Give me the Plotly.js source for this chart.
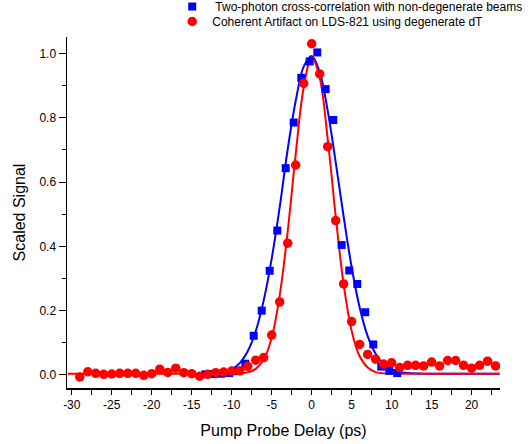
<!DOCTYPE html>
<html>
<head>
<meta charset="utf-8">
<script src="https://cdn.plot.ly/plotly-3.0.1.min.js"></script>
<style>html,body{margin:0;padding:0;background:#fff;}#chart{width:532px;height:444px;}</style>
</head>
<body>
<div id="chart"></div>
<script>
// Blue squares: two-photon cross-correlation
const blueX = [-13.3,-12.3,-11.3,-10.3,-9.3,-8.3,-7.25,-6.25,-5.25,-4.3,-3.25,-2.25,-1.3,-0.25,0.7,1.75,2.7,3.75,4.7,5.7,6.7,7.7,8.7,9.7,10.7];
const blueY = [0.002,0.003,0.004,0.006,0.012,0.035,0.122,0.200,0.324,0.449,0.643,0.785,0.924,0.975,1.003,0.889,0.793,0.404,0.325,0.283,0.195,0.095,0.026,0.013,0.006];
// Red circles: coherent artifact
const redX = [-29,-28,-27,-26,-25,-24,-23,-22,-21,-20,-19,-18,-17,-16,-15,-14,-13,-12,-11,-10,-9,-8,-7,-6,-5,-4,-3,-2,-1,0,1,2,3,4,5,6,7,8,9,10,11,12,13,14,15,16,17,18,19,20,21,22,23];
const redY = [-0.006,0.010,0.005,0.002,0.003,0.005,0.005,0.005,-0.001,0.004,0.018,0.008,0.021,0.007,0.004,-0.004,0.002,0.007,0.009,0.012,0.013,0.027,0.046,0.054,0.124,0.227,0.410,0.653,0.907,1.030,0.936,0.710,0.480,0.283,0.166,0.095,0.064,0.049,0.034,0.038,0.023,0.030,0.030,0.028,0.040,0.028,0.045,0.045,0.030,0.021,0.030,0.043,0.028];
// Fitted curves
const blueFitX = [-13.3,-12,-11,-10,-9,-8,-7,-6,-5,-4,-3,-2,-1,0,1,2,3,4,5,6,7,8,9,10,11,12,14,23.5];
const blueFitY = [0.005,0.006,0.009,0.018,0.037,0.074,0.136,0.232,0.362,0.522,0.702,0.852,0.959,0.992,0.942,0.822,0.662,0.492,0.335,0.210,0.121,0.066,0.034,0.017,0.009,0.006,0.004,0.004];
const redFitX = [-30.5,-14,-12,-10,-9,-8,-7,-6,-5,-4,-3,-2,-1,0,1,2,3,4,5,6,7,8,9,10,12,23.5];
const redFitY = [0.004,0.004,0.004,0.004,0.005,0.008,0.019,0.048,0.116,0.247,0.446,0.686,0.894,0.988,0.924,0.734,0.494,0.281,0.137,0.058,0.023,0.009,0.005,0.004,0.004,0.004];

const xTickVals = [-30,-25,-20,-15,-10,-5,0,5,10,15,20];
const xTickText = ['-30','-25','-20','-15','-10','-5','0','5','10','15','20'];
const yTickVals = [0,0.2,0.4,0.6,0.8,1.0];
const yTickText = ['0.0','0.2','0.4','0.6','0.8','1.0'];
const legendBlue = ' Two-photon cross-correlation with non-degenerate beams';
const legendRed = 'Coherent Artifact on LDS-821 using degenerate dT';

const FONT = 'Liberation Sans, Arial, sans-serif';

const traces = [
  {x: blueFitX, y: blueFitY, mode: 'lines', line: {color: '#0000ff', width: 2, shape: 'spline', smoothing: 1}, showlegend: false, hoverinfo: 'skip'},
  {x: redFitX, y: redFitY, mode: 'lines', line: {color: '#ff0000', width: 2, shape: 'spline', smoothing: 1}, showlegend: false, hoverinfo: 'skip'},
  {x: blueX, y: blueY, mode: 'markers', name: legendBlue, legend: 'legend', marker: {symbol: 'square', color: '#0000ff', size: 8}},
  {x: redX, y: redY, mode: 'markers', name: legendRed, legend: 'legend2', marker: {symbol: 'circle', color: '#ff0000', size: 9.5}}
];

const legendCommon = {
  xanchor: 'left', yanchor: 'top', yref: 'paper', xref: 'paper',
  font: {family: FONT, size: 12, color: '#000'}, bgcolor: 'rgba(0,0,0,0)', borderwidth: 0,
  itemwidth: 30
};

const layout = {
  width: 532, height: 444,
  margin: {l: 67, r: 32, t: 37, b: 56, pad: 0, autoexpand: false},
  paper_bgcolor: '#fff', plot_bgcolor: '#fff',
  font: {family: FONT, size: 12, color: '#000'},
  xaxis: {
    range: [-30.6, 23.55], tickvals: xTickVals, ticktext: xTickText, ticks: 'outside', ticklen: 5, tickwidth: 1, tickcolor: '#000',
    showline: true, linecolor: '#000', linewidth: 1.5, showgrid: false, zeroline: false,
    tickfont: {family: FONT, size: 12},
    minor: {dtick: 2.5, ticks: 'outside', ticklen: 5, tickwidth: 1, tickcolor: '#000', showgrid: false},
    title: {text: 'Pump Probe Delay (ps)', font: {family: FONT, size: 16}, standoff: 14}
  },
  yaxis: {
    range: [-0.0405, 1.051], tickvals: yTickVals, ticktext: yTickText, ticks: 'outside', ticklen: 7, tickwidth: 1, tickcolor: '#000',
    showline: true, linecolor: '#000', linewidth: 1.5, showgrid: false, zeroline: false,
    tickfont: {family: FONT, size: 12},
    minor: {dtick: 0.1, ticks: 'outside', ticklen: 4, tickwidth: 1, tickcolor: '#000', showgrid: false},
    title: {text: 'Scaled Signal', font: {family: FONT, size: 16}, standoff: 10}
  },
  showlegend: true,
  legend: Object.assign({x: 0.243, y: 1.128}, legendCommon),
  legend2: Object.assign({x: 0.243, y: 1.0855}, legendCommon)
};

Plotly.newPlot('chart', traces, layout, {staticPlot: true, displayModeBar: false});
</script>
</body>
</html>
